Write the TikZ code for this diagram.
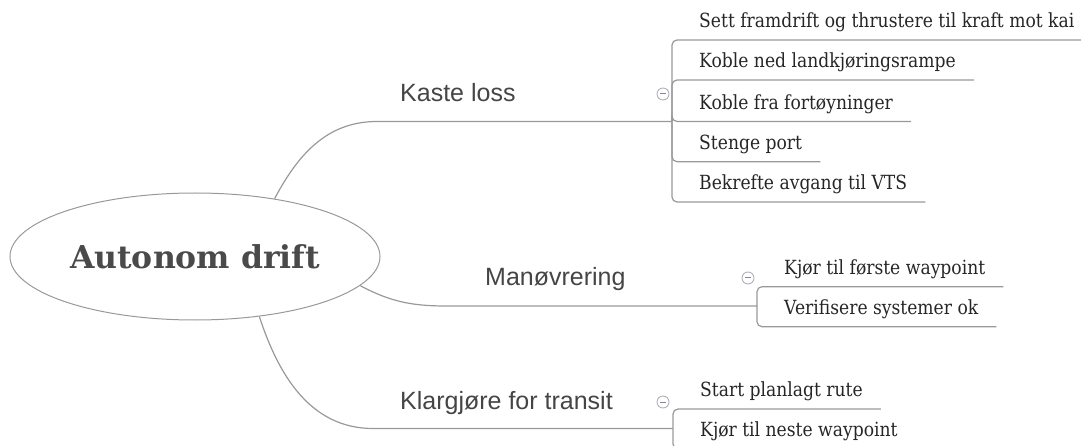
\documentclass[tikz,border=0pt]{standalone}
\usepackage{fontspec}
\usetikzlibrary{shapes.geometric}
\setmainfont{Liberation Sans}
\newfontfamily\slabfont[FakeStretch=0.88]{DejaVu Serif}
\newfontfamily\titlefont{DejaVu Serif}
\definecolor{linegray}{HTML}{999999}
\definecolor{titlegray}{HTML}{4A4A4A}
\definecolor{labelgray}{HTML}{454545}
\definecolor{leafblack}{HTML}{262626}
\definecolor{minusblue}{HTML}{7888A8}

\begin{document}
\begin{tikzpicture}[x=1pt,y=-1pt,
    conn/.style={draw=linegray, line width=1.2pt},
    fork/.style={conn, rounded corners=5pt},
    branch/.style={anchor=base west, inner sep=0pt, text=labelgray, font=\fontsize{25}{29}\selectfont},
    leaf/.style={anchor=south west, inner xsep=18pt, inner ysep=7pt, text height=13pt, text depth=5pt,
        text=leafblack, font=\slabfont\fontsize{19.5}{23}\selectfont},
    toggle/.style={circle, draw=gray!60, fill=white, line width=0.9pt, minimum size=12pt, inner sep=0pt,
        path picture={\draw[minusblue, line width=1pt] ([xshift=-3pt]path picture bounding box.center)
        -- ([xshift=3pt]path picture bounding box.center);}}]

    \clip (0,0) rectangle (1081,446);

    \node[ellipse, draw=linegray, line width=1pt, minimum width=370pt, minimum height=127pt,
        text=titlegray, font=\titlefont\bfseries\fontsize{31.5}{36}\selectfont] (root) at (195,256.5) {Autonom drift};

    % Kaste loss
    \coordinate (kstart) at (377,121.5);
    \coordinate (kfork) at (672,121.5);
    \draw[conn] (root.36) to[out=62,in=180] (kstart) -- (kfork);
    \node[branch] (kaste) at (400,101.5) {Kaste loss};
    \node[toggle] (ktoggle) at (663,94) {};
    \foreach \y/\name/\txt in {40/k1/Sett framdrift og thrustere til kraft mot kai,
        80/k2/Koble ned landkjøringsrampe, 121.5/k3/Koble fra fortøyninger,
        161.7/k4/Stenge port, 202/k5/Bekrefte avgang til VTS} {
        \node[leaf] (\name) at (681,\y) {\txt};
        \draw[fork] (kfork) |- (\name.south east);
    }

    % Manøvrering
    \coordinate (mstart) at (447,306);
    \coordinate (mfork) at (757,306);
    \draw[conn] (root.-10) to[out=-28,in=180] (mstart) -- (mfork);
    \node[branch] (manov) at (485,286) {Manøvrering};
    \node[toggle] (mtoggle) at (748,278) {};
    \foreach \y/\name/\txt in {286.7/m1/Kjør til første waypoint, 326.7/m2/Verifisere systemer ok} {
        \node[leaf] (\name) at (766,\y) {\txt};
        \draw[fork] (mfork) |- (\name.south east);
    }

    % Klargjøre for transit
    \coordinate (tstart) at (373,428.5);
    \coordinate (tfork) at (673,428.5);
    \draw[conn] (root.-43) to[out=-72,in=180] (tstart) -- (tfork);
    \node[branch] (klar) at (400,409.3) {Klargjøre for transit};
    \node[toggle] (ttoggle) at (663,402) {};
    \foreach \y/\name/\txt in {409/t1/Start planlagt rute, 449/t2/Kjør til neste waypoint} {
        \node[leaf] (\name) at (682,\y) {\txt};
        \draw[fork] (tfork) |- (\name.south east);
    }
\end{tikzpicture}
\end{document}
